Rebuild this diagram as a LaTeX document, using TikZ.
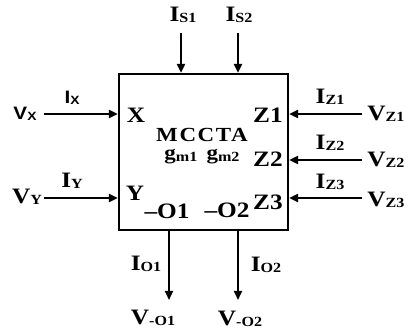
\documentclass[tikz,border=0pt]{standalone}
\usepackage{fontspec}
\setmainfont{Liberation Serif}[FakeStretch=1.15]
\newfontfamily\labsans{Liberation Sans}[FakeStretch=1.15]
\usetikzlibrary{positioning,arrows.meta}
\newcommand{\pinlab}[2]{#1{\fontsize{14}{14}\selectfont\raisebox{-1.5pt}{#2}}}
\newcommand{\pinsans}[2]{{\labsans\fontsize{18}{18}\selectfont#1{\fontsize{12}{12}\selectfont\raisebox{-1pt}{#2}}}}

\begin{document}
\begin{tikzpicture}[x=1pt, y=-1pt,
  box/.style={draw, line width=2.2pt, minimum width=169pt, minimum height=156pt, inner sep=0pt},
  lab/.style={font=\fontsize{22}{22}\selectfont\bfseries, inner sep=0pt},
  arr/.style={-{Triangle[length=9pt,width=8pt]}, line width=2pt}
]
\useasboundingbox (0,0) rectangle (408,336);
\node[box] (cc) at (203.5,152) {};
% ports inside the block
\node[lab] (px) at (136,115) {X};
\node[lab] (py) at (135,193) {Y};
\node[lab] (pz1) at (268,115) {Z1};
\node[lab] (pz2) at (268,159) {Z2};
\node[lab] (pz3) at (268,202) {Z3};
\node[lab] (po1) at (167,211) {–O1};
\node[lab] (po2) at (227,210) {–O2};
\node[lab, font=\fontsize{20}{20}\selectfont\bfseries\addfontfeature{LetterSpace=8}] (name) at (202,135) {MCCTA};
\node[lab, font=\fontsize{20}{20}\selectfont\bfseries] (gm) at (202,157) {\pinlab{g}{m1}\, \pinlab{g}{m2}};
% terminals
\node[lab] (vx) at (25,114) {\pinsans{V}{X}};
\node[lab] (vy) at (27,197) {\pinlab{V}{Y}};
\node[lab] (ix) at (72,98) {\pinsans{I}{X}};
\node[lab] (iy) at (72,181) {\pinlab{I}{Y}};
\node[lab] (vz1) at (386,114) {\pinlab{V}{Z1}};
\node[lab] (vz2) at (386,160) {\pinlab{V}{Z2}};
\node[lab] (vz3) at (386,200) {\pinlab{V}{Z3}};
\node[lab] (iz1) at (330,97) {\pinlab{I}{Z1}};
\node[lab] (iz2) at (330,143) {\pinlab{I}{Z2}};
\node[lab] (iz3) at (330,182) {\pinlab{I}{Z3}};
\node[lab] (is1) at (183,15) {\pinlab{I}{S1}};
\node[lab] (is2) at (239,15) {\pinlab{I}{S2}};
\node[lab] (io1) at (146,264) {\pinlab{I}{O1}};
\node[lab] (io2) at (266,265) {\pinlab{I}{O2}};
\node[lab] (vo1) at (153,318) {\pinlab{V}{-O1}};
\node[lab] (vo2) at (240,319) {\pinlab{V}{-O2}};
% arrow ends
\coordinate (ax) at (44,114);
\coordinate (ay) at (44,198);
\coordinate (az1) at (362,114);
\coordinate (az2) at (362,160);
\coordinate (az3) at (362,198);
\coordinate (as1) at (181,33);
\coordinate (as2) at (238,33);
\coordinate (ao1) at (169,300);
\coordinate (ao2) at (238,300);
\draw[arr] (ax) -- (ax -| cc.west);
\draw[arr] (ay) -- (ay -| cc.west);
\draw[arr] (az1) -- (az1 -| cc.east);
\draw[arr] (az2) -- (az2 -| cc.east);
\draw[arr] (az3) -- (az3 -| cc.east);
\draw[arr] (as1) -- (as1 |- cc.north);
\draw[arr] (as2) -- (as2 |- cc.north);
\draw[arr] (ao1 |- cc.south) -- (ao1);
\draw[arr] (ao2 |- cc.south) -- (ao2);
\end{tikzpicture}
\end{document}
